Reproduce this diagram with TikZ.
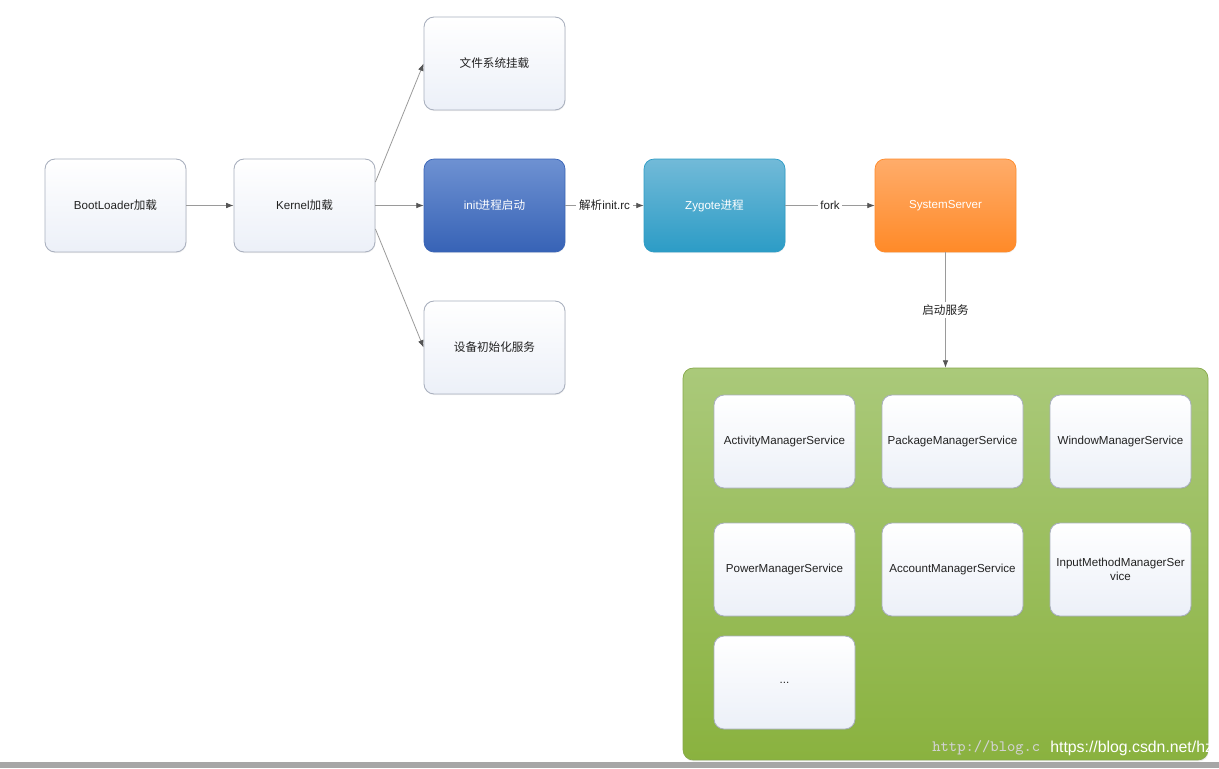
\documentclass[tikz,border=0pt]{standalone}
\usepackage{fontspec}
\setmainfont{Liberation Sans}
\newfontfamily\cjk{Noto Sans CJK SC}
\usetikzlibrary{arrows.meta,shadows}
\definecolor{bordergray}{HTML}{A9B0BE}
\definecolor{linegray}{HTML}{9A9A9A}
\definecolor{tipgray}{HTML}{555555}
\definecolor{boxbot}{HTML}{ECF0F8}
\definecolor{inittop}{HTML}{6E91D2}
\definecolor{initbot}{HTML}{3763B6}
\definecolor{zygtop}{HTML}{72BAD8}
\definecolor{zygbot}{HTML}{2C9CC6}
\definecolor{sstop}{HTML}{FFAC6A}
\definecolor{ssbot}{HTML}{FF8A28}
\definecolor{greentop}{HTML}{AAC97A}
\definecolor{greenbot}{HTML}{8AB23F}
\definecolor{greenborder}{HTML}{86A94A}
\definecolor{textdark}{HTML}{222222}
\tikzset{
  x=0.02cm, y=-0.02cm,
  base/.style={rounded corners=0.2cm, minimum width=2.82cm, minimum height=1.86cm,
    inner sep=2pt, font=\fontsize{6.6}{8}\selectfont, align=center,
    drop shadow={opacity=0.12, shadow xshift=0.3pt, shadow yshift=-0.6pt}},
  whitebox/.style={base, draw=bordergray, line width=0.5pt, top color=white, bottom color=boxbot, text=textdark},
  initbox/.style={base, draw=initbot, line width=0.4pt, top color=inittop, bottom color=initbot, text=white},
  zygbox/.style={base, draw=zygbot, line width=0.4pt, top color=zygtop, bottom color=zygbot, text=white},
  ssbox/.style={base, draw=ssbot, line width=0.4pt, top color=sstop, bottom color=ssbot, text=white},
  conn/.style={draw=linegray, line width=0.45pt, -{Latex[length=4.2pt,width=3.2pt,color=tipgray]}},
  lbl/.style={fill=white, inner sep=1.5pt, font=\fontsize{6.6}{8}\selectfont, text=textdark},
}
\begin{document}
\begin{tikzpicture}
\useasboundingbox (0,0) rectangle (1219,768);
\fill[white] (0,0) rectangle (1219,768);
% container
\node[rounded corners=0.2cm, draw=greenborder, line width=0.4pt, top color=greentop, bottom color=greenbot,
  minimum width=10.5cm, minimum height=7.84cm, inner sep=0pt,
  drop shadow={opacity=0.15, shadow xshift=0.4pt, shadow yshift=-0.8pt}] (cont) at (945.5,564) {};
% main chain
\node[whitebox] (boot) at (115.5,205.5) {BootLoader{\cjk 加载}};
\node[whitebox] (kern) at (304.5,205.5) {Kernel{\cjk 加载}};
\node[whitebox] (fs) at (494.5,63.5) {\cjk 文件系统挂载};
\node[initbox] (init) at (494.5,205.5) {init{\cjk 进程启动}};
\node[whitebox] (dev) at (494.5,347.5) {\cjk 设备初始化服务};
\node[zygbox] (zyg) at (714.5,205.5) {Zygote{\cjk 进程}};
\node[ssbox] (ss) at (945.5,205.5) {SystemServer};
% services
\node[whitebox] (ams) at (784.5,441.5) {ActivityManagerService};
\node[whitebox] (pms) at (952.5,441.5) {PackageManagerService};
\node[whitebox] (wms) at (1120.5,441.5) {WindowManagerService};
\node[whitebox] (pwr) at (784.5,569.5) {PowerManagerService};
\node[whitebox] (acc) at (952.5,569.5) {AccountManagerService};
\node[whitebox] (imm) at (1120.5,569.5) {InputMethodManagerSer\\vice};
\node[whitebox] (etc) at (784.5,682.5) {...};
% connectors
\draw[conn] (boot) -- (kern);
\draw[conn] (kern) -- (init);
\draw[conn] (kern.east |- 0,182) -- (fs.west);
\draw[conn] (kern.east |- 0,229) -- (dev.west);
\draw[conn] (init) -- node[lbl] {{\cjk 解析}init.rc} (zyg);
\draw[conn] (zyg) -- node[lbl] {fork} (ss);
\draw[conn] (ss) -- node[lbl] {\cjk 启动服务} (cont.north -| ss);
% watermark and bottom bar
\node[text=gray!35, font=\ttfamily\fontsize{9}{10}\selectfont, anchor=west, inner sep=0pt] (wm1) at (932,748) {http://blog.c};
\node[text=white, font=\fontsize{9}{10}\selectfont, anchor=west, inner sep=0pt] (wm2) at (1050,748) {https://blog.csdn.net/hzy};
\fill[gray!70] (0,762) rectangle (1219,768);
\end{tikzpicture}
\end{document}
